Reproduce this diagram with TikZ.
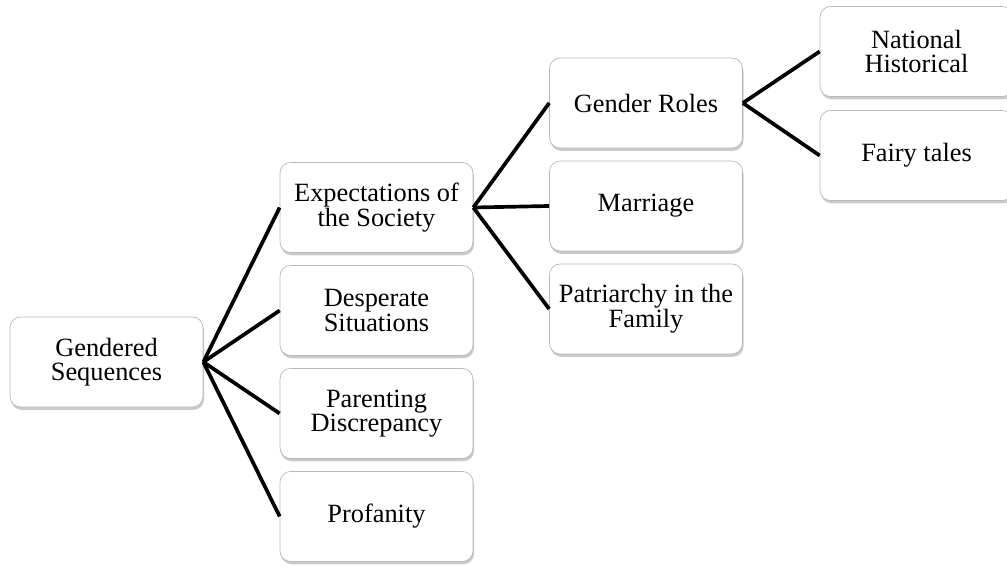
\documentclass[tikz,border=0pt]{standalone}
\usepackage{fontspec}
\setmainfont{Liberation Serif}
\usetikzlibrary{shadows}
\tikzstyle{topic} = [
    rectangle,
    rounded corners=6pt,
    minimum width=3.86cm,
    minimum height=1.8cm,
    draw=gray!55,
    fill=white,
    align=center,
    font=\fontsize{15}{14}\selectfont,
    drop shadow={shadow xshift=0.6pt, shadow yshift=-1.6pt, fill=gray!70, opacity=0.6}
]
\tikzstyle{branch} = [line width=2.1pt]

\begin{document}
\begin{tikzpicture}[x=0.02cm, y=-0.02cm, node distance=2.06cm]
\useasboundingbox (0,0) rectangle (1007,566);

\node (root) [topic] at (106.5,362) {Gendered\\Sequences};

\node (expect) [topic] at (376.5,207.5) {Expectations of\\the Society};
\node (desperate) [topic, below of=expect] {Desperate\\Situations};
\node (parenting) [topic, below of=desperate] {Parenting\\Discrepancy};
\node (profanity) [topic, below of=parenting] {Profanity};

\node (roles) [topic] at (646,103) {Gender Roles};
\node (marriage) [topic, below of=roles] {Marriage};
\node (patriarchy) [topic, below of=marriage] {Patriarchy in the\\Family};

\node (national) [topic] at (916.5,51.5) {National\\Historical};
\node (fairy) [topic] at (916.5,155.5) {Fairy tales};

\draw [branch] (root.east) -- (expect.west);
\draw [branch] (root.east) -- (desperate.west);
\draw [branch] (root.east) -- (parenting.west);
\draw [branch] (root.east) -- (profanity.west);

\draw [branch] (expect.east) -- (roles.west);
\draw [branch] (expect.east) -- (marriage.west);
\draw [branch] (expect.east) -- (patriarchy.west);

\draw [branch] (roles.east) -- (national.west);
\draw [branch] (roles.east) -- (fairy.west);

\end{tikzpicture}
\end{document}
